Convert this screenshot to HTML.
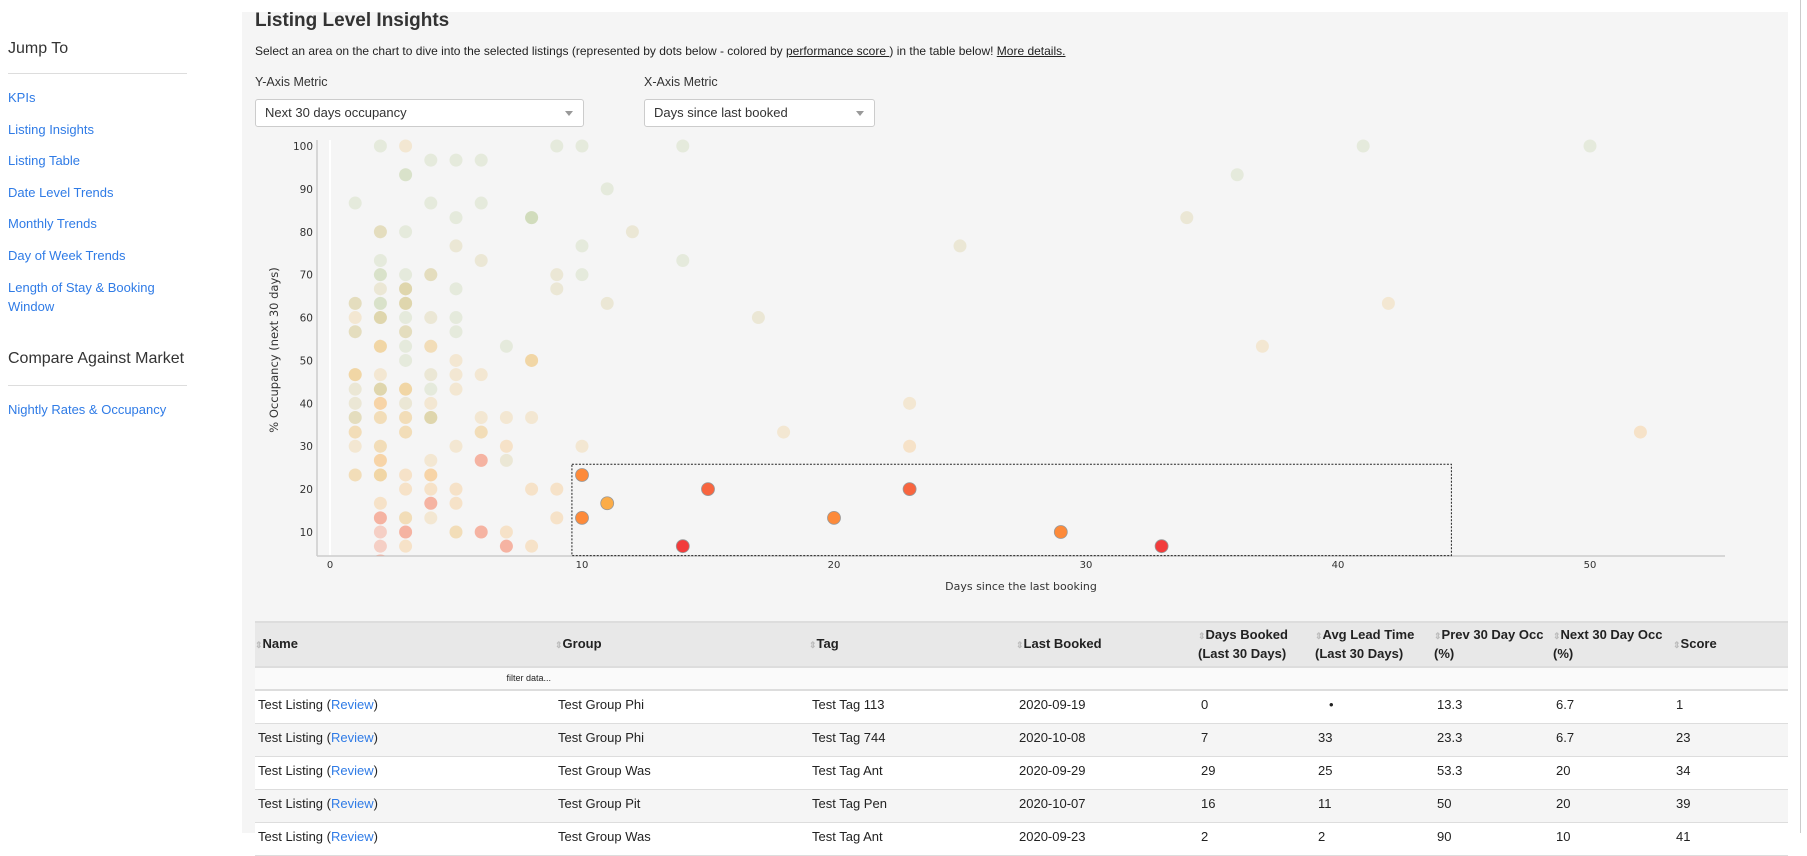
<!DOCTYPE html>
<html><head><meta charset="utf-8">
<style>
*{box-sizing:border-box;margin:0;padding:0}
body{width:1807px;height:833px;overflow:hidden;background:#fff;font-family:"Liberation Sans",Arial,sans-serif;color:#222;position:relative}
.side{position:absolute;left:8px;top:0;width:180px}
.side .h{position:absolute;left:0;font-size:16px;color:#333;font-weight:300;white-space:nowrap}
.side .ln{position:absolute;left:0;width:179px;border-top:1px solid #ddd}
.side a{position:absolute;left:0;font-size:13px;color:#2f7be6;text-decoration:none;line-height:19px;white-space:nowrap}
.panel{position:absolute;left:242px;top:12px;width:1546px;height:821px;background:#f5f5f5}
.abs{position:absolute;white-space:nowrap}
.sel{position:absolute;height:28px;background:#fff;border:1px solid #ccc;border-radius:3px;font-size:13px;line-height:26px;padding-left:9px;color:#333}
.sel .car{position:absolute;right:10px;top:11px;border-left:4px solid transparent;border-right:4px solid transparent;border-top:5px solid #999}
table{position:absolute;left:255px;top:621px;width:1533px;border-collapse:collapse;font-size:13px}
th{background:#e8e8e8;text-align:left;font-weight:bold;height:45px;vertical-align:middle;padding:0;line-height:18px;border-top:2px solid #ddd;border-bottom:2px solid #ddd}
td{padding:0 0 0 3px;height:33px;vertical-align:top;padding-top:6px;border-bottom:1px solid #ddd;color:#222}
tr.f td{height:23px;padding:5px 0 0 0;font-size:9px;background:#fafafa;border-bottom:2px solid #ddd}
tr.o td{background:#fff}
tr.e td{background:#f5f5f5}
.ar{color:#bbb;font-size:9px}
.rv{color:#2f7be6}
</style></head><body>
<div class="side">
 <div class="h" style="top:40px">Jump To</div>
 <div class="ln" style="top:73px"></div>
 <a style="top:88px">KPIs</a>
 <a style="top:120px">Listing Insights</a>
 <a style="top:151px">Listing Table</a>
 <a style="top:183px">Date Level Trends</a>
 <a style="top:214px">Monthly Trends</a>
 <a style="top:246px">Day of Week Trends</a>
 <a style="top:278px">Length of Stay &amp; Booking<br>Window</a>
 <div class="h" style="top:350px">Compare Against Market</div>
 <div class="ln" style="top:385px"></div>
 <a style="top:400px">Nightly Rates &amp; Occupancy</a>
</div>
<div class="panel"></div>
<div style="position:absolute;left:1800px;top:0;width:1px;height:833px;background:#ccc"></div>
<div class="abs" style="left:255px;top:10px;font-size:19px;font-weight:600;color:#333">Listing Level Insights</div>
<div class="abs" style="left:255px;top:44px;font-size:12px;color:#222">Select an area on the chart to dive into the selected listings (represented by dots below - colored by <u>performance score </u>) in the table below! <u>More details.</u></div>
<div class="abs" style="left:255px;top:75px;font-size:12.5px;color:#333">Y-Axis Metric</div>
<div class="abs" style="left:644px;top:75px;font-size:12.5px;color:#333">X-Axis Metric</div>
<div class="sel" style="left:255px;top:99px;width:329px">Next 30 days occupancy<span class="car"></span></div>
<div class="sel" style="left:644px;top:99px;width:231px">Days since last booked<span class="car"></span></div>

<svg id="chart" style="position:absolute;left:0;top:0" width="1807" height="620"></svg>

<table>
<colgroup><col style="width:300px"><col style="width:254px"><col style="width:207px"><col style="width:182px"><col style="width:117px"><col style="width:119px"><col style="width:119px"><col style="width:120px"><col></colgroup>
<tr>
<th><span class="ar">⇕</span>Name</th>
<th><span class="ar">⇕</span>Group</th>
<th><span class="ar">⇕</span>Tag</th>
<th><span class="ar">⇕</span>Last Booked</th>
<th><span class="ar">⇕</span>Days Booked<br>(Last 30 Days)</th>
<th><span class="ar">⇕</span>Avg Lead Time<br>(Last 30 Days)</th>
<th><span class="ar">⇕</span>Prev 30 Day Occ<br>(%)</th>
<th><span class="ar">⇕</span>Next 30 Day Occ<br>(%)</th>
<th><span class="ar">⇕</span>Score</th>
</tr>
<tr class="f"><td style="text-align:right;padding-right:4px">filter data...</td><td colspan="8"></td></tr>
<tr class="o"><td>Test Listing (<span class="rv">Review</span>)</td><td>Test Group Phi</td><td>Test Tag 113</td><td>2020-09-19</td><td>0</td><td style="padding-left:14px">•</td><td>13.3</td><td>6.7</td><td>1</td></tr>
<tr class="e"><td>Test Listing (<span class="rv">Review</span>)</td><td>Test Group Phi</td><td>Test Tag 744</td><td>2020-10-08</td><td>7</td><td>33</td><td>23.3</td><td>6.7</td><td>23</td></tr>
<tr class="o"><td>Test Listing (<span class="rv">Review</span>)</td><td>Test Group Was</td><td>Test Tag Ant</td><td>2020-09-29</td><td>29</td><td>25</td><td>53.3</td><td>20</td><td>34</td></tr>
<tr class="e"><td>Test Listing (<span class="rv">Review</span>)</td><td>Test Group Pit</td><td>Test Tag Pen</td><td>2020-10-07</td><td>16</td><td>11</td><td>50</td><td>20</td><td>39</td></tr>
<tr class="o"><td>Test Listing (<span class="rv">Review</span>)</td><td>Test Group Was</td><td>Test Tag Ant</td><td>2020-09-23</td><td>2</td><td>2</td><td>90</td><td>10</td><td>41</td></tr>
</table>

<script>
// x = days since last booking, y = next-30-day occupancy %, s = score, n = listings at point
const xs=[1,1,1,1,1,1,1,1,1,1,1,
2,2,2,2,2,2,2,2,2,2,2,2,2,2,2,2,2,2,2,2,
3,3,3,3,3,3,3,3,3,3,3,3,3,3,3,3,3,3,3,
4,4,4,4,4,4,4,4,4,4,4,4,4,4,
5,5,5,5,5,5,5,5,5,5,5,5,5,
6,6,6,6,6,6,6,6,
7,7,7,7,7,7,
8,8,8,8,8,
9,9,9,9,9,
10,10,10,10,10,10,
11,11,11,12,14,14,14,15,
17,18,23,23,23,20,25,29,33,34,36,37,41,42,50,52];
const ys=[86.7,63.3,60,56.7,46.7,43.3,40,36.7,33.3,30,23.3,
100,80,73.3,70,66.7,63.3,60,53.3,46.7,43.3,40,36.7,30,26.7,23.3,16.7,13.3,10,6.7,3.3,
100,93.3,80,70,66.7,63.3,60,56.7,53.3,50,43.3,40,36.7,33.3,23.3,20,13.3,10,6.7,
96.7,86.7,70,60,53.3,46.7,43.3,40,36.7,26.7,23.3,20,16.7,13.3,
96.7,83.3,76.7,66.7,60,56.7,50,46.7,43.3,30,20,16.7,10,
96.7,86.7,73.3,46.7,36.7,33.3,26.7,10,
53.3,36.7,30,26.7,10,6.7,
83.3,50,36.7,20,6.7,
100,70,66.7,20,13.3,
100,76.7,70,30,23.3,13.3,
90,63.3,16.7,80,100,73.3,6.7,20,
60,33.3,40,30,20,13.3,76.7,10,6.7,83.3,93.3,53.3,100,63.3,100,33.3];
const ss=[80,60,45,60,45,60,60,60,45,45,45,
80,60,80,80,60,80,60,45,45,60,32,45,45,32,45,32,15,15,15,15,
45,80,80,80,60,60,80,60,80,80,45,60,45,45,32,32,45,15,32,
80,80,60,60,45,60,80,45,60,45,32,32,15,45,
80,80,60,80,80,80,45,45,45,45,32,32,45,
80,80,60,45,45,45,15,15,
80,45,32,60,32,15,
70,45,45,32,32,
80,60,60,32,32,
80,80,80,45,27,23,
80,60,38,60,80,80,5,14,
60,45,45,32,12,26,60,22,3,60,80,45,80,45,80,32];
const ns=[1,2,1,2,3,1,1,2,2,1,2,
1,2,1,2,1,2,3,3,1,3,2,2,2,2,3,1,2,1,1,1,
1,2,1,1,3,3,1,2,1,1,3,1,2,2,1,1,2,2,1,
1,1,2,1,2,1,1,1,3,1,2,1,2,1,
1,1,1,1,1,1,1,1,1,1,1,1,2,
1,1,1,1,1,2,2,2,
1,1,1,1,1,2,
3,3,1,1,1,
1,1,1,1,1,
1,1,1,1,1,1,
1,1,1,1,1,1,1,1,
1,1,1,1,1,1,1,1,1,1,1,1,1,1,1,1];
const yTicks=[10,20,30,40,50,60,70,80,90,100];
const xTicks=[0,10,20,30,40,50];
const selection={x0:9.6,x1:44.5,y0:4.5,y1:25.8};

const NS='http://www.w3.org/2000/svg';
const svg=document.getElementById('chart');
const X=v=>330+v*25.2;
const Y=v=>146+(100-v)*4.289;
function col(s){if(s<10)return'#f23c3c';if(s<20)return'#f8653f';if(s<30)return'#fd8a3a';if(s<40)return'#fbac48';if(s<55)return'#eec070';if(s<70)return'#cfc27d';return'#b8cd97';}
function mk(t,a){const e=document.createElementNS(NS,t);for(const k in a)e.setAttribute(k,a[k]);svg.appendChild(e);return e;}
const defs=mk('defs',{});
const cp=document.createElementNS(NS,'clipPath');cp.setAttribute('id','pc');
const cr=document.createElementNS(NS,'rect');cr.setAttribute('x',318);cr.setAttribute('y',136);cr.setAttribute('width',1410);cr.setAttribute('height',420);
cp.appendChild(cr);defs.appendChild(cp);
let g=mk('line',{x1:X(0),x2:X(0),y1:140,y2:556,stroke:'#fff','stroke-width':2});


let ya=mk('line',{x1:317,x2:317,y1:140,y2:556,stroke:'#ccc','stroke-width':1.5});


let xa=mk('line',{x1:317,x2:1725,y1:556,y2:556,stroke:'#ccc','stroke-width':1.5});


yTicks.forEach(v=>{const t=mk('text',{x:313,y:Y(v)+4,'text-anchor':'end','font-size':'10.5','font-family':'DejaVu Sans, sans-serif',fill:'#333'});t.textContent=v;

});
xTicks.forEach(v=>{const t=mk('text',{x:X(v),y:568,'text-anchor':'middle','font-size':'10','font-family':'DejaVu Sans, sans-serif',fill:'#333'});t.textContent=v;

});
const yt=mk('text',{x:0,y:0,transform:'translate(278,350) rotate(-90)','text-anchor':'middle','font-size':'11.5','font-family':'DejaVu Sans, sans-serif',fill:'#333'});
yt.textContent='% Occupancy (next 30 days)';


const xt=mk('text',{x:1021,y:590,'text-anchor':'middle','font-size':'11','font-family':'DejaVu Sans, sans-serif',fill:'#333'});
xt.textContent='Days since the last booking';


const dg=mk('g',{'clip-path':'url(#pc)'});
function inSel(i){return xs[i]>=selection.x0&&xs[i]<=selection.x1&&ys[i]>=selection.y0&&ys[i]<=selection.y1;}
for(let i=0;i<xs.length;i++){
 const sel=inSel(i);
 for(let k=0;k<ns[i];k++){
  const c=document.createElementNS(NS,'circle');
  c.setAttribute('cx',X(xs[i]));c.setAttribute('cy',Y(ys[i]));c.setAttribute('r',6.5);
  c.setAttribute('fill',col(ss[i]));
  if(sel){c.setAttribute('stroke','#999');c.setAttribute('stroke-width','0.8');}
  else c.setAttribute('fill-opacity','0.26');
  
  
  dg.appendChild(c);
 }
}
const br=mk('rect',{x:X(selection.x0),y:Y(selection.y1),width:X(selection.x1)-X(selection.x0),height:Y(selection.y0)-Y(selection.y1),fill:'none',stroke:'#222','stroke-width':1,'stroke-dasharray':'2,1.5'});


</script>
</body></html>
